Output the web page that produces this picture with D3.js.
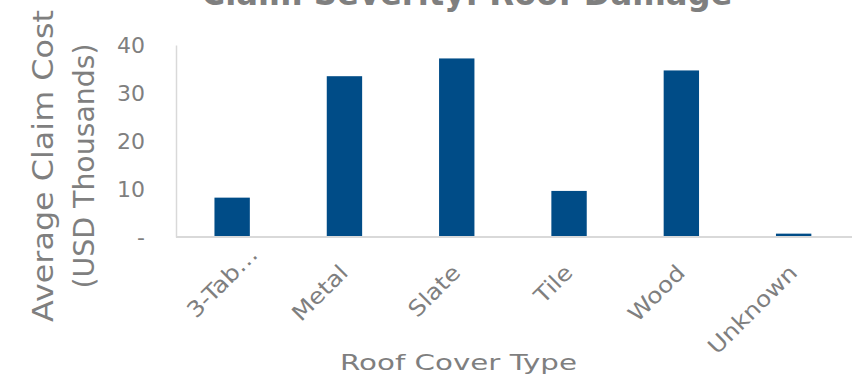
<!DOCTYPE html>
<html>
<head>
<meta charset="utf-8">
<script src="https://cdn.jsdelivr.net/npm/d3@7"></script>
<style>
  html, body { margin: 0; padding: 0; background: #fff; }
  svg { display: block; font-family: "DejaVu Sans", sans-serif; }
</style>
</head>
<body>
<svg id="chart" width="856" height="381"></svg>
<script>
// Average claim cost by roof cover type (USD thousands)
const categories = ["3-Tab…", "Metal", "Slate", "Tile", "Wood", "Unknown"];
const values = [8.2, 33.5, 37.2, 9.6, 34.7, 0.7];
const yTicks = [0, 10, 20, 30, 40];

const svg = d3.select("#chart");
const textColor = "#7f7f7f";
const axisColor = "#d9d9d9";
const barColor = "#004c87";

const plot = { left: 176, right: 852, top: 45, bottom: 237 };

const x = d3.scaleBand()
  .domain(categories)
  .range([plot.left, plot.left + 6 * 112.3])
  .paddingInner(0.685)
  .paddingOuter(0.3425);

const y = d3.scaleLinear()
  .domain([0, 40])
  .range([plot.bottom, plot.top]);

// Title
svg.append("text")
  .attr("x", 467)
  .attr("y", 5)
  .attr("text-anchor", "middle")
  .attr("fill", textColor)
  .attr("font-size", 34)
  .attr("font-weight", "bold")
  .attr("textLength", 531)
  .attr("lengthAdjust", "spacingAndGlyphs")
  .text("Claim Severity: Roof Damage");

// Bars
svg.append("g")
  .selectAll("rect")
  .data(categories.map((c, i) => ({ c, v: values[i] })))
  .join("rect")
  .attr("x", d => x(d.c))
  .attr("width", x.bandwidth())
  .attr("y", d => y(d.v))
  .attr("height", d => y(0) - y(d.v))
  .attr("fill", barColor);

// Y axis
const yAxis = svg.append("g")
  .attr("transform", `translate(${plot.left},0)`)
  .call(d3.axisLeft(y)
    .tickValues(yTicks)
    .tickSize(0)
    .tickPadding(31)
    .tickFormat(d => d === 0 ? "-" : d3.format("d")(d)));
yAxis.select(".domain")
  .attr("stroke", axisColor)
  .attr("stroke-width", 1.5);
yAxis.selectAll("text")
  .attr("fill", textColor)
  .attr("font-size", 22)
  .attr("font-family", "DejaVu Sans, sans-serif");

// X axis with slanted category labels, widened slightly;
// a truncated label sits closer to the axis
const xAxis = svg.append("g")
  .attr("transform", `translate(0,${plot.bottom})`)
  .call(d3.axisBottom(x).tickSize(0).tickPadding(0));
xAxis.select(".domain")
  .attr("d", `M${plot.left},0H${plot.right}`)
  .attr("stroke", axisColor)
  .attr("stroke-width", 2);
xAxis.selectAll("text")
  .attr("fill", textColor)
  .attr("font-size", 22)
  .attr("font-family", "DejaVu Sans, sans-serif")
  .attr("text-anchor", "end")
  .attr("dy", 0)
  .attr("y", 0)
  .attr("transform", d => d.endsWith("…")
    ? "translate(27,19) rotate(-45)"
    : "translate(5,37) rotate(-45)")
  .each(function () {
    const w = this.getComputedTextLength();
    d3.select(this)
      .attr("textLength", w * 1.13)
      .attr("lengthAdjust", "spacingAndGlyphs");
  });

// Axis titles
svg.append("text")
  .attr("x", 458.5)
  .attr("y", 370)
  .attr("text-anchor", "middle")
  .attr("fill", textColor)
  .attr("font-size", 22)
  .attr("textLength", 237)
  .attr("lengthAdjust", "spacingAndGlyphs")
  .text("Roof Cover Type");

const yTitle = svg.append("g")
  .attr("transform", "translate(0,166) rotate(-90)");
yTitle.append("text")
  .attr("x", 0)
  .attr("y", 53)
  .attr("text-anchor", "middle")
  .attr("fill", textColor)
  .attr("font-size", 29)
  .attr("textLength", 312)
  .attr("lengthAdjust", "spacingAndGlyphs")
  .text("Average Claim Cost");
yTitle.append("text")
  .attr("x", 0)
  .attr("y", 94)
  .attr("text-anchor", "middle")
  .attr("fill", textColor)
  .attr("font-size", 29)
  .attr("textLength", 245)
  .attr("lengthAdjust", "spacingAndGlyphs")
  .text("(USD Thousands)");
</script>
</body>
</html>
